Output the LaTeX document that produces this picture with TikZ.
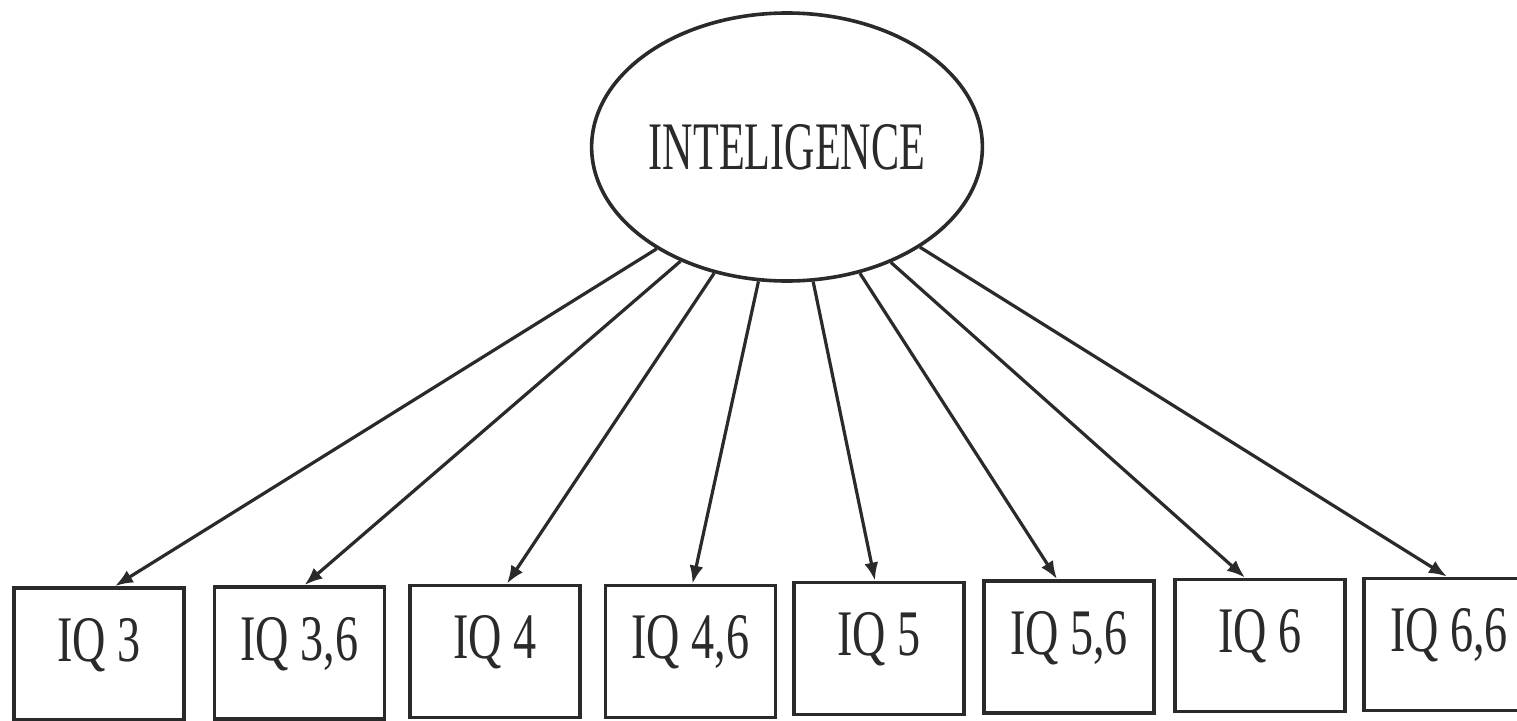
\documentclass[tikz,border=0pt]{standalone}
\usepackage{fontspec}
\setmainfont{Liberation Serif}
\newfontfamily\labfont{Liberation Serif}[FakeStretch=0.71]
\newfontfamily\ellfont{Liberation Serif}[FakeStretch=0.62]
\usetikzlibrary{shapes.geometric,arrows.meta}
\definecolor{ink}{HTML}{2A2A2A}
\tikzset{
  latent/.style={draw=ink, line width=3.6pt, ellipse, inner sep=0pt,
    minimum width=350pt, minimum height=268pt, text=ink,
    font=\ellfont\fontsize{68}{70}\selectfont},
  obsbox/.style={draw=ink, line width=3.8pt, rectangle, inner sep=0pt,
    minimum width=170pt, minimum height=132pt, text=ink,
    text height=44pt, text depth=30pt,
    font=\labfont\fontsize{65}{67}\selectfont},
  loading/.style={draw=ink, line width=3.2pt,
    -{Latex[length=18pt,width=14pt]}}
}
\begin{document}
\begin{tikzpicture}[x=1pt,y=-1pt]
\useasboundingbox[fill=white] (0,0) rectangle (1517,720);
\node[latent] (int) at (787,147) {INTELIGENCE};
\node[obsbox] (b1) at (99,654) {IQ 3};
\node[obsbox] (b2) at (299.5,653) {IQ 3,6};
\node[obsbox] (b3) at (495,651.5) {IQ 4};
\node[obsbox] (b4) at (690.5,651.5) {IQ 4,6};
\node[obsbox] (b5) at (879,648.5) {IQ 5};
\node[obsbox] (b6) at (1069,647) {IQ 5,6};
\node[obsbox] (b7) at (1260,645.5) {IQ 6};
\node[obsbox] (b8) at (1449,644.5) {IQ 6,6};
\draw[loading] (int.218.7) -- ([xshift=16pt]b1.north);
\draw[loading] (int.227.9) -- ([xshift=5pt]b2.north);
\draw[loading] (int.240.6) -- ([xshift=12pt]b3.north);
\draw[loading] (int.258.7) -- ([xshift=2pt]b4.north);
\draw[loading] (int.281.9) -- ([xshift=-4pt]b5.north);
\draw[loading] (int.300.7) -- ([xshift=-12pt]b6.north);
\draw[loading] (int.312.9) -- ([xshift=-15pt]b7.north);
\draw[loading] (int.323.4) -- ([xshift=-2pt]b8.north);
\end{tikzpicture}
\end{document}
